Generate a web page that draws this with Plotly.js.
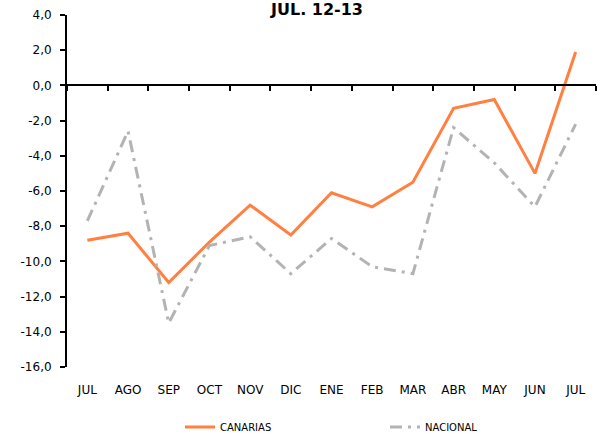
<!DOCTYPE html>
<html><head><meta charset="utf-8">
<script src="https://cdn.plot.ly/plotly-3.0.1.min.js"></script>
<style>html,body{margin:0;padding:0;background:#fff}#chart{width:597px;height:436px}</style>
</head><body><div id="chart"></div>
<script>
const months = ["JUL","AGO","SEP","OCT","NOV","DIC","ENE","FEB","MAR","ABR","MAY","JUN","JUL"];
const canarias = [-8.8,-8.4,-11.2,-8.9,-6.8,-8.5,-6.1,-6.9,-5.5,-1.3,-0.8,-5.0,1.9];
const nacional = [-7.7,-2.6,-13.5,-9.1,-8.6,-10.7,-8.7,-10.3,-10.7,-2.4,-4.4,-6.9,-2.2];
const yTickVals = [4,2,0,-2,-4,-6,-8,-10,-12,-14,-16];
const yTickText = ["4,0","2,0","0,0","-2,0","-4,0","-6,0","-8,0","-10,0","-12,0","-14,0","-16,0"];
const idx = months.map((m,i)=>i);
const font = {family:"DejaVu Sans, Verdana, sans-serif", color:"#000"};
const data = [
 {x:idx, y:canarias, type:"scatter", mode:"lines", name:"CANARIAS", line:{color:"#FF8040", width:3}, xaxis:"x", yaxis:"y"},
 {x:idx, y:nacional, type:"scatter", mode:"lines", name:"NACIONAL", line:{color:"#B3B3B3", width:3, dash:"12px,6px,3px,6px"}, xaxis:"x2", yaxis:"y"}
];
const layout = {
 width:597, height:436,
 margin:{l:67, r:1, t:15, b:69, autoexpand:false},
 paper_bgcolor:"#fff", plot_bgcolor:"#fff",
 showlegend:true,
 title:{text:"<b>JUL. 12-13</b>", font:{...font, size:16}, x:317/597, xanchor:"center", yref:"container", y:1-9.5/436, yanchor:"middle"},
 xaxis:{range:[-0.5,12.5], tickvals:idx, ticktext:months, showline:false, showgrid:false, zeroline:false, ticks:"", ticklabelstandoff:14, tickfont:{...font, size:12}, fixedrange:true},
 xaxis2:{overlaying:"x", matches:"x", range:[-0.5,12.5], anchor:"free", position:0.8, side:"bottom", tick0:0.5, dtick:1, ticks:"outside", ticklen:5, tickwidth:2, tickcolor:"#000", showticklabels:false, showline:true, linewidth:2, linecolor:"#000", showgrid:false, zeroline:false},
 yaxis:{range:[-16,4], tickvals:yTickVals, ticktext:yTickText, ticks:"outside", ticklen:5, tickwidth:2, tickcolor:"#000", showline:true, linewidth:2, linecolor:"#000", showgrid:false, zeroline:false, ticklabelstandoff:6, tickfont:{...font, size:12}},
 legend:{orientation:"h", x:(180-67)/529, xanchor:"left", y:-(427-367)/352, yanchor:"middle", entrywidth:160, entrywidthmode:"pixels", font:{...font, size:10}, bgcolor:"rgba(0,0,0,0)"}
};
Plotly.newPlot("chart", data, layout, {displayModeBar:false, staticPlot:true});
</script></body></html>
